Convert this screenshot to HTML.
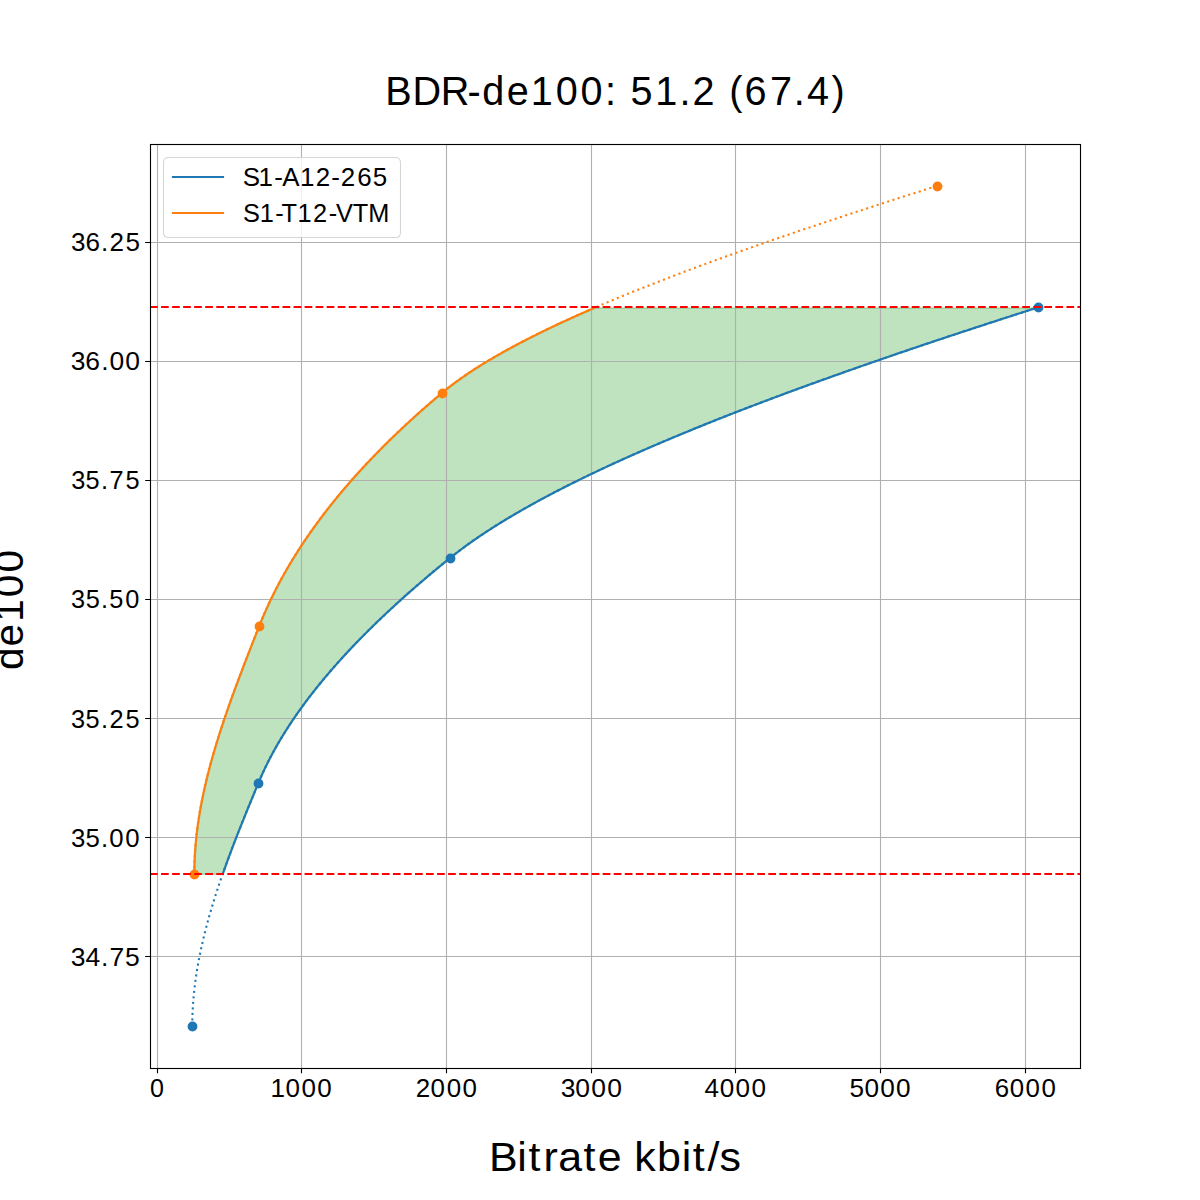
<!DOCTYPE html>
<html><head><meta charset="utf-8"><title>BDR-de100</title><style>
html,body{margin:0;padding:0;background:#fff;width:1200px;height:1200px;overflow:hidden;}
svg{display:block;}
text{font-family:"Liberation Sans",sans-serif;fill:#000;}
</style></head><body>
<svg width="1200" height="1200" viewBox="0 0 1200 1200">
<rect x="0" y="0" width="1200" height="1200" fill="#fff"/>
<path d="M223.31 874.2L223.81 872.78L224.31 871.36L224.81 869.94L225.32 868.52L225.83 867.1L226.34 865.68L226.85 864.27L227.37 862.85L227.89 861.43L228.41 860.01L228.93 858.59L229.46 857.17L229.99 855.75L230.52 854.33L231.05 852.91L231.58 851.49L232.12 850.07L232.65 848.65L233.19 847.24L233.74 845.82L234.28 844.4L234.82 842.98L235.37 841.56L235.92 840.14L236.47 838.72L237.02 837.3L237.58 835.88L238.13 834.46L238.69 833.04L239.25 831.62L239.81 830.21L240.37 828.79L240.93 827.37L241.5 825.95L242.06 824.53L242.63 823.11L243.2 821.69L243.77 820.27L244.34 818.85L244.91 817.43L245.49 816.01L246.06 814.59L246.64 813.18L247.21 811.76L247.79 810.34L248.37 808.92L248.95 807.5L249.53 806.08L250.11 804.66L250.69 803.24L251.27 801.82L251.86 800.4L252.44 798.98L253.03 797.56L253.61 796.15L254.2 794.73L254.78 793.31L255.37 791.89L255.96 790.47L256.55 789.05L257.13 787.63L257.72 786.21L258.31 784.79L258.9 783.37L259.49 781.95L260.09 780.53L260.71 779.12L261.32 777.7L261.95 776.28L262.59 774.86L263.23 773.44L263.89 772.02L264.55 770.6L265.22 769.18L265.9 767.76L266.59 766.34L267.28 764.92L267.99 763.5L268.7 762.09L269.42 760.67L270.15 759.25L270.89 757.83L271.64 756.41L272.4 754.99L273.16 753.57L273.93 752.15L274.71 750.73L275.5 749.31L276.3 747.89L277.1 746.47L277.92 745.06L278.74 743.64L279.57 742.22L280.41 740.8L281.26 739.38L282.11 737.96L282.97 736.54L283.85 735.12L284.73 733.7L285.61 732.28L286.51 730.86L287.41 729.44L288.32 728.03L289.24 726.61L290.17 725.19L291.11 723.77L292.05 722.35L293 720.93L293.96 719.51L294.93 718.09L295.91 716.67L296.89 715.25L297.88 713.83L298.88 712.41L299.89 711L300.91 709.58L301.93 708.16L302.96 706.74L304 705.32L305.05 703.9L306.1 702.48L307.16 701.06L308.23 699.64L309.31 698.22L310.39 696.8L311.49 695.38L312.59 693.97L313.7 692.55L314.81 691.13L315.94 689.71L317.07 688.29L318.21 686.87L319.35 685.45L320.51 684.03L321.67 682.61L322.84 681.19L324.01 679.77L325.2 678.35L326.39 676.93L327.59 675.52L328.79 674.1L330.01 672.68L331.23 671.26L332.46 669.84L333.69 668.42L334.94 667L336.19 665.58L337.45 664.16L338.71 662.74L339.98 661.32L341.26 659.9L342.55 658.49L343.85 657.07L345.15 655.65L346.46 654.23L347.77 652.81L349.09 651.39L350.42 649.97L351.76 648.55L353.11 647.13L354.46 645.71L355.82 644.29L357.18 642.87L358.56 641.46L359.94 640.04L361.32 638.62L362.72 637.2L364.12 635.78L365.53 634.36L366.94 632.94L368.36 631.52L369.79 630.1L371.23 628.68L372.67 627.26L374.12 625.84L375.58 624.43L377.04 623.01L378.51 621.59L379.99 620.17L381.47 618.75L382.96 617.33L384.46 615.91L385.96 614.49L387.47 613.07L388.99 611.65L390.51 610.23L392.04 608.81L393.58 607.4L395.12 605.98L396.67 604.56L398.23 603.14L399.79 601.72L401.36 600.3L402.94 598.88L404.52 597.46L406.11 596.04L407.71 594.62L409.31 593.2L410.92 591.78L412.54 590.37L414.16 588.95L415.79 587.53L417.42 586.11L419.07 584.69L420.71 583.27L422.37 581.85L424.03 580.43L425.7 579.01L427.37 577.59L429.05 576.17L430.73 574.75L432.43 573.34L434.12 571.92L435.83 570.5L437.54 569.08L439.26 567.66L440.98 566.24L442.71 564.82L444.44 563.4L446.18 561.98L447.93 560.56L449.69 559.14L451.45 557.72L453.23 556.31L455.03 554.89L456.86 553.47L458.71 552.05L460.58 550.63L462.48 549.21L464.4 547.79L466.34 546.37L468.3 544.95L470.28 543.53L472.29 542.11L474.32 540.69L476.37 539.28L478.44 537.86L480.53 536.44L482.65 535.02L484.78 533.6L486.94 532.18L489.12 530.76L491.32 529.34L493.54 527.92L495.78 526.5L498.05 525.08L500.33 523.66L502.64 522.25L504.96 520.83L507.31 519.41L509.68 517.99L512.06 516.57L514.47 515.15L516.9 513.73L519.35 512.31L521.82 510.89L524.3 509.47L526.81 508.05L529.34 506.63L531.89 505.22L534.46 503.8L537.04 502.38L539.65 500.96L542.28 499.54L544.92 498.12L547.58 496.7L550.27 495.28L552.97 493.86L555.69 492.44L558.43 491.02L561.19 489.6L563.97 488.18L566.77 486.77L569.58 485.35L572.41 483.93L575.27 482.51L578.14 481.09L581.03 479.67L583.93 478.25L586.86 476.83L589.8 475.41L592.76 473.99L595.74 472.57L598.73 471.15L601.74 469.74L604.77 468.32L607.82 466.9L610.89 465.48L613.97 464.06L617.07 462.64L620.19 461.22L623.32 459.8L626.47 458.38L629.64 456.96L632.82 455.54L636.02 454.12L639.24 452.71L642.47 451.29L645.72 449.87L648.99 448.45L652.27 447.03L655.57 445.61L658.88 444.19L662.21 442.77L665.56 441.35L668.92 439.93L672.3 438.51L675.69 437.09L679.1 435.68L682.52 434.26L685.96 432.84L689.41 431.42L692.88 430L696.37 428.58L699.87 427.16L703.38 425.74L706.91 424.32L710.45 422.9L714.01 421.48L717.59 420.06L721.17 418.65L724.77 417.23L728.39 415.81L732.02 414.39L735.66 412.97L739.32 411.55L742.99 410.13L746.68 408.71L750.38 407.29L754.09 405.87L757.82 404.45L761.56 403.03L765.31 401.62L769.08 400.2L772.86 398.78L776.65 397.36L780.46 395.94L784.28 394.52L788.11 393.1L791.95 391.68L795.81 390.26L799.68 388.84L803.56 387.42L807.46 386L811.36 384.59L815.28 383.17L819.21 381.75L823.16 380.33L827.11 378.91L831.08 377.49L835.06 376.07L839.05 374.65L843.05 373.23L847.07 371.81L851.09 370.39L855.13 368.97L859.18 367.56L863.24 366.14L867.31 364.72L871.39 363.3L875.48 361.88L879.58 360.46L883.7 359.04L887.82 357.62L891.96 356.2L896.1 354.78L900.26 353.36L904.43 351.94L908.6 350.53L912.79 349.11L916.99 347.69L921.19 346.27L925.41 344.85L929.64 343.43L933.87 342.01L938.12 340.59L942.37 339.17L946.64 337.75L950.91 336.33L955.2 334.91L959.49 333.5L963.79 332.08L968.1 330.66L972.42 329.24L976.75 327.82L981.09 326.4L985.43 324.98L989.79 323.56L994.15 322.14L998.52 320.72L1002.9 319.3L1007.29 317.88L1011.68 316.47L1016.09 315.05L1020.5 313.63L1024.92 312.21L1029.35 310.79L1033.78 309.37L1038.23 307.95L595.76 307.95L592.48 309.37L589.21 310.79L585.97 312.21L582.75 313.63L579.55 315.05L576.38 316.47L573.23 317.88L570.1 319.3L566.99 320.72L563.9 322.14L560.84 323.56L557.8 324.98L554.79 326.4L551.8 327.82L548.83 329.24L545.88 330.66L542.97 332.08L540.07 333.5L537.2 334.91L534.35 336.33L531.53 337.75L528.74 339.17L525.97 340.59L523.22 342.01L520.5 343.43L517.81 344.85L515.14 346.27L512.5 347.69L509.88 349.11L507.29 350.53L504.73 351.94L502.19 353.36L499.68 354.78L497.2 356.2L494.75 357.62L492.32 359.04L489.92 360.46L487.55 361.88L485.2 363.3L482.89 364.72L480.6 366.14L478.34 367.56L476.12 368.97L473.91 370.39L471.74 371.81L469.6 373.23L467.49 374.65L465.41 376.07L463.35 377.49L461.33 378.91L459.34 380.33L457.38 381.75L455.44 383.17L453.54 384.59L451.67 386L449.83 387.42L448.02 388.84L446.25 390.26L444.5 391.68L442.79 393.1L441.1 394.52L439.42 395.94L437.74 397.36L436.07 398.78L434.41 400.2L432.76 401.62L431.11 403.03L429.47 404.45L427.84 405.87L426.21 407.29L424.6 408.71L422.99 410.13L421.38 411.55L419.79 412.97L418.2 414.39L416.62 415.81L415.05 417.23L413.48 418.65L411.92 420.06L410.37 421.48L408.83 422.9L407.29 424.32L405.76 425.74L404.24 427.16L402.73 428.58L401.22 430L399.72 431.42L398.22 432.84L396.74 434.26L395.26 435.68L393.79 437.09L392.32 438.51L390.87 439.93L389.42 441.35L387.97 442.77L386.54 444.19L385.11 445.61L383.69 447.03L382.28 448.45L380.87 449.87L379.47 451.29L378.08 452.71L376.69 454.12L375.31 455.54L373.94 456.96L372.58 458.38L371.22 459.8L369.87 461.22L368.53 462.64L367.19 464.06L365.87 465.48L364.54 466.9L363.23 468.32L361.92 469.74L360.62 471.15L359.33 472.57L358.04 473.99L356.76 475.41L355.49 476.83L354.23 478.25L352.97 479.67L351.72 481.09L350.48 482.51L349.24 483.93L348.01 485.35L346.79 486.77L345.57 488.18L344.36 489.6L343.16 491.02L341.97 492.44L340.78 493.86L339.6 495.28L338.42 496.7L337.26 498.12L336.1 499.54L334.95 500.96L333.8 502.38L332.66 503.8L331.53 505.22L330.4 506.63L329.28 508.05L328.17 509.47L327.07 510.89L325.97 512.31L324.88 513.73L323.8 515.15L322.72 516.57L321.65 517.99L320.59 519.41L319.53 520.83L318.48 522.25L317.44 523.66L316.4 525.08L315.37 526.5L314.35 527.92L313.34 529.34L312.33 530.76L311.33 532.18L310.33 533.6L309.34 535.02L308.36 536.44L307.39 537.86L306.42 539.28L305.46 540.69L304.5 542.11L303.56 543.53L302.61 544.95L301.68 546.37L300.75 547.79L299.83 549.21L298.92 550.63L298.01 552.05L297.11 553.47L296.22 554.89L295.33 556.31L294.45 557.72L293.58 559.14L292.71 560.56L291.85 561.98L291 563.4L290.15 564.82L289.31 566.24L288.48 567.66L287.65 569.08L286.83 570.5L286.01 571.92L285.21 573.34L284.41 574.75L283.61 576.17L282.83 577.59L282.05 579.01L281.27 580.43L280.5 581.85L279.74 583.27L278.99 584.69L278.24 586.11L277.5 587.53L276.77 588.95L276.04 590.37L275.32 591.78L274.6 593.2L273.89 594.62L273.19 596.04L272.5 597.46L271.81 598.88L271.12 600.3L270.45 601.72L269.78 603.14L269.12 604.56L268.46 605.98L267.81 607.4L267.17 608.81L266.53 610.23L265.9 611.65L265.28 613.07L264.66 614.49L264.05 615.91L263.44 617.33L262.84 618.75L262.25 620.17L261.67 621.59L261.09 623.01L260.52 624.43L259.95 625.84L259.39 627.26L258.83 628.68L258.27 630.1L257.71 631.52L257.15 632.94L256.59 634.36L256.03 635.78L255.47 637.2L254.91 638.62L254.35 640.04L253.79 641.46L253.24 642.87L252.68 644.29L252.12 645.71L251.57 647.13L251.01 648.55L250.46 649.97L249.9 651.39L249.35 652.81L248.79 654.23L248.24 655.65L247.69 657.07L247.14 658.49L246.59 659.9L246.04 661.32L245.5 662.74L244.95 664.16L244.4 665.58L243.86 667L243.31 668.42L242.77 669.84L242.23 671.26L241.69 672.68L241.15 674.1L240.61 675.52L240.08 676.93L239.54 678.35L239.01 679.77L238.48 681.19L237.95 682.61L237.42 684.03L236.89 685.45L236.36 686.87L235.84 688.29L235.32 689.71L234.8 691.13L234.28 692.55L233.76 693.97L233.24 695.38L232.73 696.8L232.22 698.22L231.71 699.64L231.2 701.06L230.69 702.48L230.19 703.9L229.68 705.32L229.18 706.74L228.68 708.16L228.19 709.58L227.69 711L227.2 712.41L226.71 713.83L226.23 715.25L225.74 716.67L225.26 718.09L224.78 719.51L224.3 720.93L223.82 722.35L223.35 723.77L222.88 725.19L222.41 726.61L221.95 728.03L221.49 729.44L221.03 730.86L220.57 732.28L220.11 733.7L219.66 735.12L219.21 736.54L218.77 737.96L218.33 739.38L217.88 740.8L217.45 742.22L217.01 743.64L216.58 745.06L216.15 746.47L215.73 747.89L215.31 749.31L214.89 750.73L214.47 752.15L214.06 753.57L213.65 754.99L213.25 756.41L212.85 757.83L212.45 759.25L212.05 760.67L211.66 762.09L211.27 763.5L210.89 764.92L210.51 766.34L210.13 767.76L209.76 769.18L209.38 770.6L209.02 772.02L208.66 773.44L208.3 774.86L207.94 776.28L207.59 777.7L207.24 779.12L206.9 780.53L206.56 781.95L206.23 783.37L205.89 784.79L205.57 786.21L205.24 787.63L204.93 789.05L204.61 790.47L204.3 791.89L203.99 793.31L203.69 794.73L203.39 796.15L203.1 797.56L202.81 798.98L202.53 800.4L202.25 801.82L201.97 803.24L201.7 804.66L201.44 806.08L201.17 807.5L200.92 808.92L200.67 810.34L200.42 811.76L200.18 813.18L199.94 814.59L199.7 816.01L199.48 817.43L199.25 818.85L199.04 820.27L198.82 821.69L198.61 823.11L198.41 824.53L198.21 825.95L198.02 827.37L197.83 828.79L197.65 830.21L197.47 831.62L197.3 833.04L197.13 834.46L196.97 835.88L196.82 837.3L196.67 838.72L196.52 840.14L196.38 841.56L196.25 842.98L196.12 844.4L196 845.82L195.88 847.24L195.77 848.65L195.66 850.07L195.56 851.49L195.47 852.91L195.38 854.33L195.3 855.75L195.22 857.17L195.15 858.59L195.08 860.01L195.02 861.43L194.97 862.85L194.93 864.27L194.88 865.68L194.85 867.1L194.82 868.52L194.8 869.94L194.78 871.36L194.77 872.78L194.77 874.2Z" fill="#2ca02c" fill-opacity="0.3" stroke="#2ca02c" stroke-opacity="0.3" stroke-width="1.389" stroke-linejoin="round"/>
<path d="M157.5 144V1068M301.5 144V1068M446.5 144V1068M591.5 144V1068M735.5 144V1068M880.5 144V1068M1025.5 144V1068M150 956.5H1080M150 837.5H1080M150 718.5H1080M150 599.5H1080M150 480.5H1080M150 361.5H1080M150 242.5H1080" stroke="#b0b0b0" stroke-width="1.11" fill="none"/>
<path d="M192.27 1026L192.28 1024.2L192.29 1022.4L192.32 1020.6L192.36 1018.8L192.4 1017L192.46 1015.19L192.53 1013.39L192.61 1011.59L192.7 1009.79L192.79 1007.99L192.9 1006.19L193.02 1004.39L193.15 1002.59L193.29 1000.79L193.43 998.99L193.59 997.19L193.76 995.39L193.93 993.58L194.12 991.78L194.31 989.98L194.51 988.18L194.72 986.38L194.95 984.58L195.18 982.78L195.42 980.98L195.66 979.18L195.92 977.38L196.18 975.58L196.46 973.77L196.74 971.97L197.03 970.17L197.33 968.37L197.64 966.57L197.95 964.77L198.28 962.97L198.61 961.17L198.95 959.37L199.29 957.57L199.65 955.77L200.01 953.96L200.38 952.16L200.76 950.36L201.15 948.56L201.54 946.76L201.94 944.96L202.35 943.16L202.76 941.36L203.18 939.56L203.61 937.76L204.05 935.96L204.49 934.16L204.94 932.35L205.39 930.55L205.86 928.75L206.33 926.95L206.8 925.15L207.28 923.35L207.77 921.55L208.27 919.75L208.77 917.95L209.28 916.15L209.79 914.35L210.31 912.54L210.83 910.74L211.36 908.94L211.9 907.14L212.44 905.34L212.99 903.54L213.54 901.74L214.1 899.94L214.67 898.14L215.24 896.34L215.81 894.54L216.39 892.74L216.98 890.93L217.56 889.13L218.16 887.33L218.76 885.53L219.36 883.73L219.97 881.93L220.58 880.13L221.2 878.33L221.82 876.53L222.45 874.73L223.08 872.93L223.72 871.12L224.36 869.32L225 867.52L225.65 865.72L226.3 863.92L226.95 862.12L227.61 860.32L228.27 858.52L228.94 856.72L229.61 854.92L230.28 853.12L230.96 851.31L231.64 849.51L232.32 847.71L233.01 845.91L233.7 844.11L234.39 842.31L235.08 840.51L235.78 838.71L236.48 836.91L237.18 835.11L237.89 833.31L238.6 831.51L239.31 829.7L240.02 827.9L240.74 826.1L241.46 824.3L242.17 822.5L242.9 820.7L243.62 818.9L244.35 817.1L245.07 815.3L245.8 813.5L246.53 811.7L247.27 809.89L248 808.09L248.74 806.29L249.47 804.49L250.21 802.69L250.95 800.89L251.69 799.09L252.43 797.29L253.18 795.49L253.92 793.69L254.66 791.89L255.41 790.09L256.16 788.28L256.9 786.48L257.65 784.68L258.4 782.88L259.15 781.08L259.92 779.28L260.7 777.48L261.5 775.68L262.31 773.88L263.13 772.08L263.97 770.28L264.82 768.47L265.68 766.67L266.56 764.87L267.46 763.07L268.36 761.27L269.28 759.47L270.22 757.67L271.16 755.87L272.12 754.07L273.1 752.27L274.08 750.47L275.08 748.66L276.1 746.86L277.13 745.06L278.17 743.26L279.22 741.46L280.29 739.66L281.37 737.86L282.46 736.06L283.57 734.26L284.69 732.46L285.82 730.66L286.97 728.86L288.13 727.05L289.3 725.25L290.49 723.45L291.68 721.65L292.89 719.85L294.12 718.05L295.35 716.25L296.6 714.45L297.87 712.65L299.14 710.85L300.43 709.05L301.73 707.24L303.04 705.44L304.36 703.64L305.7 701.84L307.05 700.04L308.42 698.24L309.79 696.44L311.18 694.64L312.58 692.84L313.99 691.04L315.41 689.24L316.85 687.44L318.3 685.63L319.76 683.83L321.23 682.03L322.72 680.23L324.22 678.43L325.72 676.63L327.25 674.83L328.78 673.03L330.32 671.23L331.88 669.43L333.45 667.63L335.03 665.82L336.62 664.02L338.23 662.22L339.85 660.42L341.47 658.62L343.11 656.82L344.76 655.02L346.43 653.22L348.1 651.42L349.79 649.62L351.49 647.82L353.19 646.01L354.91 644.21L356.65 642.41L358.39 640.61L360.14 638.81L361.91 637.01L363.69 635.21L365.47 633.41L367.27 631.61L369.08 629.81L370.91 628.01L372.74 626.21L374.58 624.4L376.44 622.6L378.3 620.8L380.18 619L382.07 617.2L383.97 615.4L385.88 613.6L387.8 611.8L389.73 610L391.67 608.2L393.62 606.4L395.59 604.59L397.56 602.79L399.54 600.99L401.54 599.19L403.54 597.39L405.56 595.59L407.59 593.79L409.62 591.99L411.67 590.19L413.73 588.39L415.8 586.59L417.88 584.79L419.96 582.98L422.06 581.18L424.17 579.38L426.29 577.58L428.42 575.78L430.56 573.98L432.71 572.18L434.87 570.38L437.04 568.58L439.22 566.78L441.41 564.98L443.61 563.17L445.82 561.37L448.04 559.57L450.27 557.77L452.52 555.97L454.81 554.17L457.14 552.37L459.5 550.57L461.9 548.77L464.34 546.97L466.81 545.17L469.32 543.36L471.86 541.56L474.44 539.76L477.05 537.96L479.7 536.16L482.38 534.36L485.1 532.56L487.85 530.76L490.64 528.96L493.46 527.16L496.31 525.36L499.2 523.56L502.12 521.75L505.08 519.95L508.06 518.15L511.09 516.35L514.14 514.55L517.23 512.75L520.34 510.95L523.5 509.15L526.68 507.35L529.89 505.55L533.14 503.75L536.42 501.94L539.73 500.14L543.07 498.34L546.44 496.54L549.84 494.74L553.28 492.94L556.74 491.14L560.23 489.34L563.76 487.54L567.31 485.74L570.9 483.94L574.51 482.14L578.15 480.33L581.83 478.53L585.53 476.73L589.26 474.93L593.02 473.13L596.8 471.33L600.62 469.53L604.46 467.73L608.34 465.93L612.24 464.13L616.16 462.33L620.12 460.52L624.1 458.72L628.11 456.92L632.15 455.12L636.21 453.32L640.3 451.52L644.41 449.72L648.56 447.92L652.72 446.12L656.92 444.32L661.14 442.52L665.38 440.71L669.65 438.91L673.95 437.11L678.27 435.31L682.61 433.51L686.98 431.71L691.38 429.91L695.8 428.11L700.24 426.31L704.71 424.51L709.2 422.71L713.71 420.91L718.25 419.1L722.81 417.3L727.39 415.5L732 413.7L736.63 411.9L741.28 410.1L745.95 408.3L750.65 406.5L755.36 404.7L760.1 402.9L764.86 401.1L769.65 399.29L774.45 397.49L779.27 395.69L784.12 393.89L788.98 392.09L793.87 390.29L798.78 388.49L803.7 386.69L808.65 384.89L813.62 383.09L818.6 381.29L823.61 379.49L828.64 377.68L833.68 375.88L838.74 374.08L843.82 372.28L848.92 370.48L854.04 368.68L859.18 366.88L864.33 365.08L869.51 363.28L874.7 361.48L879.91 359.68L885.13 357.87L890.37 356.07L895.63 354.27L900.91 352.47L906.2 350.67L911.51 348.87L916.83 347.07L922.17 345.27L927.53 343.47L932.9 341.67L938.29 339.87L943.7 338.06L949.11 336.26L954.55 334.46L960 332.66L965.46 330.86L970.94 329.06L976.43 327.26L981.93 325.46L987.45 323.66L992.99 321.86L998.53 320.06L1004.09 318.26L1009.67 316.45L1015.25 314.65L1020.85 312.85L1026.47 311.05L1032.09 309.25L1037.73 307.45" stroke="#1f77b4" stroke-width="2.083" fill="none" stroke-dasharray="2.083 3.438" stroke-linejoin="round"/>
<path d="M194.27 873.7L194.28 871.98L194.29 870.25L194.31 868.53L194.35 866.81L194.39 865.08L194.44 863.36L194.5 861.64L194.57 859.91L194.64 858.19L194.73 856.46L194.82 854.74L194.93 853.02L195.04 851.29L195.16 849.57L195.29 847.85L195.43 846.12L195.57 844.4L195.73 842.68L195.89 840.95L196.06 839.23L196.24 837.51L196.43 835.78L196.62 834.06L196.83 832.33L197.04 830.61L197.25 828.89L197.48 827.16L197.71 825.44L197.96 823.72L198.2 821.99L198.46 820.27L198.72 818.55L198.99 816.82L199.27 815.1L199.56 813.38L199.85 811.65L200.15 809.93L200.46 808.2L200.77 806.48L201.09 804.76L201.42 803.03L201.75 801.31L202.09 799.59L202.44 797.86L202.79 796.14L203.15 794.42L203.52 792.69L203.89 790.97L204.27 789.25L204.66 787.52L205.05 785.8L205.44 784.07L205.85 782.35L206.26 780.63L206.67 778.9L207.09 777.18L207.52 775.46L207.95 773.73L208.39 772.01L208.84 770.29L209.29 768.56L209.74 766.84L210.2 765.12L210.67 763.39L211.14 761.67L211.61 759.95L212.09 758.22L212.58 756.5L213.07 754.77L213.57 753.05L214.07 751.33L214.57 749.6L215.08 747.88L215.6 746.16L216.12 744.43L216.64 742.71L217.17 740.99L217.71 739.26L218.24 737.54L218.78 735.82L219.33 734.09L219.88 732.37L220.43 730.64L220.99 728.92L221.56 727.2L222.12 725.47L222.69 723.75L223.26 722.03L223.84 720.3L224.42 718.58L225.01 716.86L225.6 715.13L226.19 713.41L226.78 711.69L227.38 709.96L227.98 708.24L228.59 706.51L229.19 704.79L229.8 703.07L230.42 701.34L231.03 699.62L231.65 697.9L232.28 696.17L232.9 694.45L233.53 692.73L234.16 691L234.79 689.28L235.43 687.56L236.06 685.83L236.7 684.11L237.34 682.38L237.99 680.66L238.64 678.94L239.28 677.21L239.93 675.49L240.59 673.77L241.24 672.04L241.9 670.32L242.56 668.6L243.22 666.87L243.88 665.15L244.54 663.43L245.2 661.7L245.87 659.98L246.54 658.26L247.21 656.53L247.87 654.81L248.55 653.08L249.22 651.36L249.89 649.64L250.56 647.91L251.24 646.19L251.91 644.47L252.59 642.74L253.27 641.02L253.95 639.3L254.62 637.57L255.3 635.85L255.98 634.13L256.66 632.4L257.34 630.68L258.02 628.95L258.7 627.23L259.38 625.51L260.07 623.78L260.77 622.06L261.48 620.34L262.19 618.61L262.92 616.89L263.65 615.17L264.4 613.44L265.15 611.72L265.91 610L266.69 608.27L267.47 606.55L268.26 604.82L269.06 603.1L269.87 601.38L270.69 599.65L271.52 597.93L272.36 596.21L273.21 594.48L274.07 592.76L274.94 591.04L275.82 589.31L276.71 587.59L277.61 585.87L278.51 584.14L279.43 582.42L280.36 580.69L281.29 578.97L282.24 577.25L283.2 575.52L284.16 573.8L285.14 572.08L286.12 570.35L287.12 568.63L288.12 566.91L289.14 565.18L290.16 563.46L291.2 561.74L292.24 560.01L293.3 558.29L294.36 556.57L295.43 554.84L296.52 553.12L297.61 551.39L298.71 549.67L299.83 547.95L300.95 546.22L302.08 544.5L303.23 542.78L304.38 541.05L305.54 539.33L306.72 537.61L307.9 535.88L309.09 534.16L310.29 532.44L311.51 530.71L312.73 528.99L313.96 527.26L315.21 525.54L316.46 523.82L317.72 522.09L319 520.37L320.28 518.65L321.57 516.92L322.88 515.2L324.19 513.48L325.52 511.75L326.85 510.03L328.19 508.31L329.55 506.58L330.91 504.86L332.29 503.13L333.67 501.41L335.07 499.69L336.48 497.96L337.89 496.24L339.32 494.52L340.75 492.79L342.2 491.07L343.66 489.35L345.12 487.62L346.6 485.9L348.09 484.18L349.59 482.45L351.1 480.73L352.62 479.01L354.15 477.28L355.69 475.56L357.24 473.83L358.8 472.11L360.37 470.39L361.95 468.66L363.54 466.94L365.14 465.22L366.76 463.49L368.38 461.77L370.01 460.05L371.66 458.32L373.31 456.6L374.98 454.88L376.65 453.15L378.34 451.43L380.04 449.7L381.74 447.98L383.46 446.26L385.19 444.53L386.93 442.81L388.68 441.09L390.44 439.36L392.21 437.64L393.99 435.92L395.78 434.19L397.59 432.47L399.4 430.75L401.22 429.02L403.06 427.3L404.9 425.57L406.76 423.85L408.63 422.13L410.51 420.4L412.39 418.68L414.29 416.96L416.2 415.23L418.12 413.51L420.06 411.79L422 410.06L423.95 408.34L425.92 406.62L427.89 404.89L429.88 403.17L431.87 401.44L433.88 399.72L435.9 398L437.93 396.27L439.97 394.55L442.02 392.83L444.1 391.1L446.22 389.38L448.4 387.66L450.61 385.93L452.88 384.21L455.19 382.49L457.54 380.76L459.94 379.04L462.39 377.32L464.88 375.59L467.41 373.87L469.99 372.14L472.6 370.42L475.27 368.7L477.97 366.97L480.72 365.25L483.51 363.53L486.34 361.8L489.22 360.08L492.13 358.36L495.09 356.63L498.08 354.91L501.12 353.19L504.2 351.46L507.31 349.74L510.47 348.01L513.66 346.29L516.89 344.57L520.16 342.84L523.47 341.12L526.82 339.4L530.2 337.67L533.62 335.95L537.08 334.23L540.57 332.5L544.1 330.78L547.67 329.06L551.27 327.33L554.9 325.61L558.57 323.88L562.28 322.16L566.02 320.44L569.79 318.71L573.6 316.99L577.44 315.27L581.31 313.54L585.22 311.82L589.15 310.1L593.12 308.37L597.12 306.65L601.15 304.93L605.22 303.2L609.31 301.48L613.44 299.75L617.59 298.03L621.77 296.31L625.99 294.58L630.23 292.86L634.5 291.14L638.8 289.41L643.13 287.69L647.48 285.97L651.86 284.24L656.27 282.52L660.71 280.8L665.17 279.07L669.66 277.35L674.18 275.63L678.72 273.9L683.28 272.18L687.87 270.45L692.49 268.73L697.13 267.01L701.79 265.28L706.48 263.56L711.19 261.84L715.92 260.11L720.68 258.39L725.46 256.67L730.26 254.94L735.08 253.22L739.92 251.5L744.79 249.77L749.67 248.05L754.58 246.32L759.51 244.6L764.45 242.88L769.42 241.15L774.4 239.43L779.4 237.71L784.43 235.98L789.47 234.26L794.52 232.54L799.6 230.81L804.69 229.09L809.8 227.37L814.93 225.64L820.07 223.92L825.23 222.19L830.4 220.47L835.59 218.75L840.8 217.02L846.02 215.3L851.25 213.58L856.5 211.85L861.76 210.13L867.04 208.41L872.33 206.68L877.63 204.96L882.94 203.24L888.27 201.51L893.6 199.79L898.95 198.06L904.31 196.34L909.68 194.62L915.07 192.89L920.46 191.17L925.86 189.45L931.27 187.72L936.69 186" stroke="#ff7f0e" stroke-width="2.083" fill="none" stroke-dasharray="2.083 3.438" stroke-linejoin="round"/>
<path d="M222.81 873.7L223.31 872.28L223.81 870.86L224.31 869.44L224.82 868.02L225.33 866.6L225.84 865.18L226.35 863.77L226.87 862.35L227.39 860.93L227.91 859.51L228.43 858.09L228.96 856.67L229.49 855.25L230.02 853.83L230.55 852.41L231.08 850.99L231.62 849.57L232.15 848.15L232.69 846.74L233.24 845.32L233.78 843.9L234.32 842.48L234.87 841.06L235.42 839.64L235.97 838.22L236.52 836.8L237.08 835.38L237.63 833.96L238.19 832.54L238.75 831.12L239.31 829.71L239.87 828.29L240.43 826.87L241 825.45L241.56 824.03L242.13 822.61L242.7 821.19L243.27 819.77L243.84 818.35L244.41 816.93L244.99 815.51L245.56 814.09L246.14 812.68L246.71 811.26L247.29 809.84L247.87 808.42L248.45 807L249.03 805.58L249.61 804.16L250.19 802.74L250.77 801.32L251.36 799.9L251.94 798.48L252.53 797.06L253.11 795.65L253.7 794.23L254.28 792.81L254.87 791.39L255.46 789.97L256.05 788.55L256.63 787.13L257.22 785.71L257.81 784.29L258.4 782.87L258.99 781.45L259.59 780.03L260.21 778.62L260.82 777.2L261.45 775.78L262.09 774.36L262.73 772.94L263.39 771.52L264.05 770.1L264.72 768.68L265.4 767.26L266.09 765.84L266.78 764.42L267.49 763L268.2 761.59L268.92 760.17L269.65 758.75L270.39 757.33L271.14 755.91L271.9 754.49L272.66 753.07L273.43 751.65L274.21 750.23L275 748.81L275.8 747.39L276.6 745.97L277.42 744.56L278.24 743.14L279.07 741.72L279.91 740.3L280.76 738.88L281.61 737.46L282.47 736.04L283.35 734.62L284.23 733.2L285.11 731.78L286.01 730.36L286.91 728.94L287.82 727.53L288.74 726.11L289.67 724.69L290.61 723.27L291.55 721.85L292.5 720.43L293.46 719.01L294.43 717.59L295.41 716.17L296.39 714.75L297.38 713.33L298.38 711.91L299.39 710.5L300.41 709.08L301.43 707.66L302.46 706.24L303.5 704.82L304.55 703.4L305.6 701.98L306.66 700.56L307.73 699.14L308.81 697.72L309.89 696.3L310.99 694.88L312.09 693.47L313.2 692.05L314.31 690.63L315.44 689.21L316.57 687.79L317.71 686.37L318.85 684.95L320.01 683.53L321.17 682.11L322.34 680.69L323.51 679.27L324.7 677.85L325.89 676.43L327.09 675.02L328.29 673.6L329.51 672.18L330.73 670.76L331.96 669.34L333.19 667.92L334.44 666.5L335.69 665.08L336.95 663.66L338.21 662.24L339.48 660.82L340.76 659.4L342.05 657.99L343.35 656.57L344.65 655.15L345.96 653.73L347.27 652.31L348.59 650.89L349.92 649.47L351.26 648.05L352.61 646.63L353.96 645.21L355.32 643.79L356.68 642.37L358.06 640.96L359.44 639.54L360.82 638.12L362.22 636.7L363.62 635.28L365.03 633.86L366.44 632.44L367.86 631.02L369.29 629.6L370.73 628.18L372.17 626.76L373.62 625.34L375.08 623.93L376.54 622.51L378.01 621.09L379.49 619.67L380.97 618.25L382.46 616.83L383.96 615.41L385.46 613.99L386.97 612.57L388.49 611.15L390.01 609.73L391.54 608.31L393.08 606.9L394.62 605.48L396.17 604.06L397.73 602.64L399.29 601.22L400.86 599.8L402.44 598.38L404.02 596.96L405.61 595.54L407.21 594.12L408.81 592.7L410.42 591.28L412.04 589.87L413.66 588.45L415.29 587.03L416.92 585.61L418.57 584.19L420.21 582.77L421.87 581.35L423.53 579.93L425.2 578.51L426.87 577.09L428.55 575.67L430.23 574.25L431.93 572.84L433.62 571.42L435.33 570L437.04 568.58L438.76 567.16L440.48 565.74L442.21 564.32L443.94 562.9L445.68 561.48L447.43 560.06L449.19 558.64L450.95 557.22L452.73 555.81L454.53 554.39L456.36 552.97L458.21 551.55L460.08 550.13L461.98 548.71L463.9 547.29L465.84 545.87L467.8 544.45L469.78 543.03L471.79 541.61L473.82 540.19L475.87 538.78L477.94 537.36L480.03 535.94L482.15 534.52L484.28 533.1L486.44 531.68L488.62 530.26L490.82 528.84L493.04 527.42L495.28 526L497.55 524.58L499.83 523.16L502.14 521.75L504.46 520.33L506.81 518.91L509.18 517.49L511.56 516.07L513.97 514.65L516.4 513.23L518.85 511.81L521.32 510.39L523.8 508.97L526.31 507.55L528.84 506.13L531.39 504.72L533.96 503.3L536.54 501.88L539.15 500.46L541.78 499.04L544.42 497.62L547.08 496.2L549.77 494.78L552.47 493.36L555.19 491.94L557.93 490.52L560.69 489.1L563.47 487.68L566.27 486.27L569.08 484.85L571.91 483.43L574.77 482.01L577.64 480.59L580.53 479.17L583.43 477.75L586.36 476.33L589.3 474.91L592.26 473.49L595.24 472.07L598.23 470.65L601.24 469.24L604.27 467.82L607.32 466.4L610.39 464.98L613.47 463.56L616.57 462.14L619.69 460.72L622.82 459.3L625.97 457.88L629.14 456.46L632.32 455.04L635.52 453.62L638.74 452.21L641.97 450.79L645.22 449.37L648.49 447.95L651.77 446.53L655.07 445.11L658.38 443.69L661.71 442.27L665.06 440.85L668.42 439.43L671.8 438.01L675.19 436.59L678.6 435.18L682.02 433.76L685.46 432.34L688.91 430.92L692.38 429.5L695.87 428.08L699.37 426.66L702.88 425.24L706.41 423.82L709.95 422.4L713.51 420.98L717.09 419.56L720.67 418.15L724.27 416.73L727.89 415.31L731.52 413.89L735.16 412.47L738.82 411.05L742.49 409.63L746.18 408.21L749.88 406.79L753.59 405.37L757.32 403.95L761.06 402.53L764.81 401.12L768.58 399.7L772.36 398.28L776.15 396.86L779.96 395.44L783.78 394.02L787.61 392.6L791.45 391.18L795.31 389.76L799.18 388.34L803.06 386.92L806.96 385.5L810.86 384.09L814.78 382.67L818.71 381.25L822.66 379.83L826.61 378.41L830.58 376.99L834.56 375.57L838.55 374.15L842.55 372.73L846.57 371.31L850.59 369.89L854.63 368.47L858.68 367.06L862.74 365.64L866.81 364.22L870.89 362.8L874.98 361.38L879.08 359.96L883.2 358.54L887.32 357.12L891.46 355.7L895.6 354.28L899.76 352.86L903.93 351.44L908.1 350.03L912.29 348.61L916.49 347.19L920.69 345.77L924.91 344.35L929.14 342.93L933.37 341.51L937.62 340.09L941.87 338.67L946.14 337.25L950.41 335.83L954.7 334.41L958.99 333L963.29 331.58L967.6 330.16L971.92 328.74L976.25 327.32L980.59 325.9L984.93 324.48L989.29 323.06L993.65 321.64L998.02 320.22L1002.4 318.8L1006.79 317.38L1011.18 315.97L1015.59 314.55L1020 313.13L1024.42 311.71L1028.85 310.29L1033.28 308.87L1037.73 307.45" stroke="#1f77b4" stroke-width="2.083" fill="none" stroke-linejoin="round" stroke-linecap="square"/>
<path d="M194.27 873.7L194.27 872.28L194.28 870.86L194.3 869.44L194.32 868.02L194.35 866.6L194.38 865.18L194.43 863.77L194.47 862.35L194.52 860.93L194.58 859.51L194.65 858.09L194.72 856.67L194.8 855.25L194.88 853.83L194.97 852.41L195.06 850.99L195.16 849.57L195.27 848.15L195.38 846.74L195.5 845.32L195.62 843.9L195.75 842.48L195.88 841.06L196.02 839.64L196.17 838.22L196.32 836.8L196.47 835.38L196.63 833.96L196.8 832.54L196.97 831.12L197.15 829.71L197.33 828.29L197.52 826.87L197.71 825.45L197.91 824.03L198.11 822.61L198.32 821.19L198.54 819.77L198.75 818.35L198.98 816.93L199.2 815.51L199.44 814.09L199.68 812.68L199.92 811.26L200.17 809.84L200.42 808.42L200.67 807L200.94 805.58L201.2 804.16L201.47 802.74L201.75 801.32L202.03 799.9L202.31 798.48L202.6 797.06L202.89 795.65L203.19 794.23L203.49 792.81L203.8 791.39L204.11 789.97L204.43 788.55L204.74 787.13L205.07 785.71L205.39 784.29L205.73 782.87L206.06 781.45L206.4 780.03L206.74 778.62L207.09 777.2L207.44 775.78L207.8 774.36L208.16 772.94L208.52 771.52L208.88 770.1L209.26 768.68L209.63 767.26L210.01 765.84L210.39 764.42L210.77 763L211.16 761.59L211.55 760.17L211.95 758.75L212.35 757.33L212.75 755.91L213.15 754.49L213.56 753.07L213.97 751.65L214.39 750.23L214.81 748.81L215.23 747.39L215.65 745.97L216.08 744.56L216.51 743.14L216.95 741.72L217.38 740.3L217.83 738.88L218.27 737.46L218.71 736.04L219.16 734.62L219.61 733.2L220.07 731.78L220.53 730.36L220.99 728.94L221.45 727.53L221.91 726.11L222.38 724.69L222.85 723.27L223.32 721.85L223.8 720.43L224.28 719.01L224.76 717.59L225.24 716.17L225.73 714.75L226.21 713.33L226.7 711.91L227.19 710.5L227.69 709.08L228.18 707.66L228.68 706.24L229.18 704.82L229.69 703.4L230.19 701.98L230.7 700.56L231.21 699.14L231.72 697.72L232.23 696.3L232.74 694.88L233.26 693.47L233.78 692.05L234.3 690.63L234.82 689.21L235.34 687.79L235.86 686.37L236.39 684.95L236.92 683.53L237.45 682.11L237.98 680.69L238.51 679.27L239.04 677.85L239.58 676.43L240.11 675.02L240.65 673.6L241.19 672.18L241.73 670.76L242.27 669.34L242.81 667.92L243.36 666.5L243.9 665.08L244.45 663.66L245 662.24L245.54 660.82L246.09 659.4L246.64 657.99L247.19 656.57L247.74 655.15L248.29 653.73L248.85 652.31L249.4 650.89L249.96 649.47L250.51 648.05L251.07 646.63L251.62 645.21L252.18 643.79L252.74 642.37L253.29 640.96L253.85 639.54L254.41 638.12L254.97 636.7L255.53 635.28L256.09 633.86L256.65 632.44L257.21 631.02L257.77 629.6L258.33 628.18L258.89 626.76L259.45 625.34L260.02 623.93L260.59 622.51L261.17 621.09L261.75 619.67L262.34 618.25L262.94 616.83L263.55 615.41L264.16 613.99L264.78 612.57L265.4 611.15L266.03 609.73L266.67 608.31L267.31 606.9L267.96 605.48L268.62 604.06L269.28 602.64L269.95 601.22L270.62 599.8L271.31 598.38L272 596.96L272.69 595.54L273.39 594.12L274.1 592.7L274.82 591.28L275.54 589.87L276.27 588.45L277 587.03L277.74 585.61L278.49 584.19L279.24 582.77L280 581.35L280.77 579.93L281.55 578.51L282.33 577.09L283.11 575.67L283.91 574.25L284.71 572.84L285.51 571.42L286.33 570L287.15 568.58L287.98 567.16L288.81 565.74L289.65 564.32L290.5 562.9L291.35 561.48L292.21 560.06L293.08 558.64L293.95 557.22L294.83 555.81L295.72 554.39L296.61 552.97L297.51 551.55L298.42 550.13L299.33 548.71L300.25 547.29L301.18 545.87L302.11 544.45L303.06 543.03L304 541.61L304.96 540.19L305.92 538.78L306.89 537.36L307.86 535.94L308.84 534.52L309.83 533.1L310.83 531.68L311.83 530.26L312.84 528.84L313.85 527.42L314.87 526L315.9 524.58L316.94 523.16L317.98 521.75L319.03 520.33L320.09 518.91L321.15 517.49L322.22 516.07L323.3 514.65L324.38 513.23L325.47 511.81L326.57 510.39L327.67 508.97L328.78 507.55L329.9 506.13L331.03 504.72L332.16 503.3L333.3 501.88L334.45 500.46L335.6 499.04L336.76 497.62L337.92 496.2L339.1 494.78L340.28 493.36L341.47 491.94L342.66 490.52L343.86 489.1L345.07 487.68L346.29 486.27L347.51 484.85L348.74 483.43L349.98 482.01L351.22 480.59L352.47 479.17L353.73 477.75L354.99 476.33L356.26 474.91L357.54 473.49L358.83 472.07L360.12 470.65L361.42 469.24L362.73 467.82L364.04 466.4L365.37 464.98L366.69 463.56L368.03 462.14L369.37 460.72L370.72 459.3L372.08 457.88L373.44 456.46L374.81 455.04L376.19 453.62L377.58 452.21L378.97 450.79L380.37 449.37L381.78 447.95L383.19 446.53L384.61 445.11L386.04 443.69L387.47 442.27L388.92 440.85L390.37 439.43L391.82 438.01L393.29 436.59L394.76 435.18L396.24 433.76L397.72 432.34L399.22 430.92L400.72 429.5L402.23 428.08L403.74 426.66L405.26 425.24L406.79 423.82L408.33 422.4L409.87 420.98L411.42 419.56L412.98 418.15L414.55 416.73L416.12 415.31L417.7 413.89L419.29 412.47L420.88 411.05L422.49 409.63L424.1 408.21L425.71 406.79L427.34 405.37L428.97 403.95L430.61 402.53L432.26 401.12L433.91 399.7L435.57 398.28L437.24 396.86L438.92 395.44L440.6 394.02L442.29 392.6L444 391.18L445.75 389.76L447.52 388.34L449.33 386.92L451.17 385.5L453.04 384.09L454.94 382.67L456.88 381.25L458.84 379.83L460.83 378.41L462.85 376.99L464.91 375.57L466.99 374.15L469.1 372.73L471.24 371.31L473.41 369.89L475.62 368.47L477.84 367.06L480.1 365.64L482.39 364.22L484.7 362.8L487.05 361.38L489.42 359.96L491.82 358.54L494.25 357.12L496.7 355.7L499.18 354.28L501.69 352.86L504.23 351.44L506.79 350.03L509.38 348.61L512 347.19L514.64 345.77L517.31 344.35L520 342.93L522.72 341.51L525.47 340.09L528.24 338.67L531.03 337.25L533.85 335.83L536.7 334.41L539.57 333L542.47 331.58L545.38 330.16L548.33 328.74L551.3 327.32L554.29 325.9L557.3 324.48L560.34 323.06L563.4 321.64L566.49 320.22L569.6 318.8L572.73 317.38L575.88 315.97L579.05 314.55L582.25 313.13L585.47 311.71L588.71 310.29L591.98 308.87L595.26 307.45" stroke="#ff7f0e" stroke-width="2.083" fill="none" stroke-linejoin="round" stroke-linecap="square"/>
<circle cx="192.5" cy="1026.5" r="4.167" fill="#1f77b4" stroke="#1f77b4" stroke-width="1.5"/>
<circle cx="258.5" cy="783.5" r="4.167" fill="#1f77b4" stroke="#1f77b4" stroke-width="1.5"/>
<circle cx="450.5" cy="558.5" r="4.167" fill="#1f77b4" stroke="#1f77b4" stroke-width="1.5"/>
<circle cx="1038.5" cy="307.5" r="4.167" fill="#1f77b4" stroke="#1f77b4" stroke-width="1.5"/>
<circle cx="194.5" cy="874.5" r="4.167" fill="#ff7f0e" stroke="#ff7f0e" stroke-width="1.5"/>
<circle cx="259.5" cy="626.5" r="4.167" fill="#ff7f0e" stroke="#ff7f0e" stroke-width="1.5"/>
<circle cx="442.5" cy="393.5" r="4.167" fill="#ff7f0e" stroke="#ff7f0e" stroke-width="1.5"/>
<circle cx="937.5" cy="186.5" r="4.167" fill="#ff7f0e" stroke="#ff7f0e" stroke-width="1.5"/>
<path d="M150 874H1080" stroke="#ff0000" stroke-width="2.083" fill="none" stroke-dasharray="7.708 3.333"/>
<path d="M150 307H1080" stroke="#ff0000" stroke-width="2.083" fill="none" stroke-dasharray="7.708 3.333"/>
<rect x="150.5" y="144.5" width="930" height="924" fill="none" stroke="#000" stroke-width="1.11"/>
<path d="M157.5 1068.5V1073.36M301.5 1068.5V1073.36M446.5 1068.5V1073.36M591.5 1068.5V1073.36M735.5 1068.5V1073.36M880.5 1068.5V1073.36M1025.5 1068.5V1073.36M150.5 956.5H145.14M150.5 837.5H145.14M150.5 718.5H145.14M150.5 599.5H145.14M150.5 480.5H145.14M150.5 361.5H145.14M150.5 242.5H145.14" stroke="#000" stroke-width="1.11" fill="none"/>
<path d="M168.5 157.5H395.5Q400.5 157.5 400.5 162.5V232.5Q400.5 237.5 395.5 237.5H168.5Q163.5 237.5 163.5 232.5V162.5Q163.5 157.5 168.5 157.5Z" fill="#fff" fill-opacity="0.8" stroke="#ccc" stroke-opacity="0.8" stroke-width="1.11"/>
<path d="M172.94 177H223.06" stroke="#1f77b4" stroke-width="2.083" stroke-linecap="square"/>
<path d="M172.94 213H223.06" stroke="#ff7f0e" stroke-width="2.083" stroke-linecap="square"/>
<text transform="scale(0.9654 1)" x="399.08 427.2 456.62 484.14 499.66 524.8 549.78 575.64 601.23 626.57 631.57 653.23 678.61 703.76 717.38 722.38 755.3 771.19 797.63 822.33 835.87 861.2" y="104.71" font-size="41.03" xml:space="preserve">BDR-de100: 51.2 (67.4)</text>
<text transform="scale(1.0577 1)" x="462.44 489.11 499.69 513.97 527.78 551.69 565.15 570.15 599.61 621.06 644.49 654.97 668.94 680.16" y="1170.97" font-size="40.64" xml:space="preserve">Bitrate kbit/s</text>
<text transform="translate(23.45 671.68) rotate(-90) scale(0.9932 1)" x="1.6 25.37 50.16 74.88 99.8" y="0" font-size="40.83" xml:space="preserve">de100</text>
<text transform="scale(0.9783 1)" x="248.26 264.18 280.28 288.63 306.6 322.81 338.54 348.36 365.14 381.1" y="186.1" font-size="26.5" xml:space="preserve">S1-A12-265</text>
<text transform="scale(0.9560 1)" x="254.12 271.82 287.85 294.46 311.23 327.54 343.79 351.37 368.94 385.13" y="222.1" font-size="26.5" xml:space="preserve">S1-T12-VTM</text>
<text transform="scale(0.9996 1)" x="70.87 85.47 101.1 109.56 125.16" y="966.1" font-size="26.5" xml:space="preserve">34.75</text>
<text transform="scale(0.9728 1)" x="73.03 87.89 103.72 112.44 128.71" y="847.1" font-size="26.5" xml:space="preserve">35.00</text>
<text transform="scale(0.9568 1)" x="74.25 89.5 105.51 114.34 131.11" y="728.1" font-size="26.5" xml:space="preserve">35.25</text>
<text transform="scale(0.9558 1)" x="74.39 89.69 105.56 114.38 131.02" y="608.1" font-size="26.5" xml:space="preserve">35.50</text>
<text transform="scale(0.9571 1)" x="74.37 89.41 105.45 114.53 131.01" y="489.1" font-size="26.5" xml:space="preserve">35.75</text>
<text transform="scale(0.9973 1)" x="71.05 85.53 101.43 109.72 125.56" y="370.1" font-size="26.5" xml:space="preserve">36.00</text>
<text transform="scale(0.9819 1)" x="72.3 87.12 102.96 111.57 127.72" y="251.1" font-size="26.5" xml:space="preserve">36.25</text>
<text transform="scale(0.9473 1)" x="158.33" y="1097.1" font-size="26.5" xml:space="preserve">0</text>
<text transform="scale(0.9820 1)" x="275.45 290.87 306.97 323.07" y="1097.1" font-size="26.5" xml:space="preserve">1000</text>
<text transform="scale(0.9789 1)" x="424.69 439.85 456.28 472.43" y="1097.1" font-size="26.5" xml:space="preserve">2000</text>
<text transform="scale(0.9988 1)" x="561.45 576.03 592.06 607.9" y="1097.1" font-size="26.5" xml:space="preserve">3000</text>
<text transform="scale(0.9844 1)" x="715.77 731.17 747.09 763.35" y="1097.1" font-size="26.5" xml:space="preserve">4000</text>
<text transform="scale(0.9892 1)" x="858.81 873.82 889.8 905.8" y="1097.1" font-size="26.5" xml:space="preserve">5000</text>
<text transform="scale(0.9759 1)" x="1019.24 1034.65 1050.92 1067.12" y="1097.1" font-size="26.5" xml:space="preserve">6000</text>
</svg>
</body></html>
